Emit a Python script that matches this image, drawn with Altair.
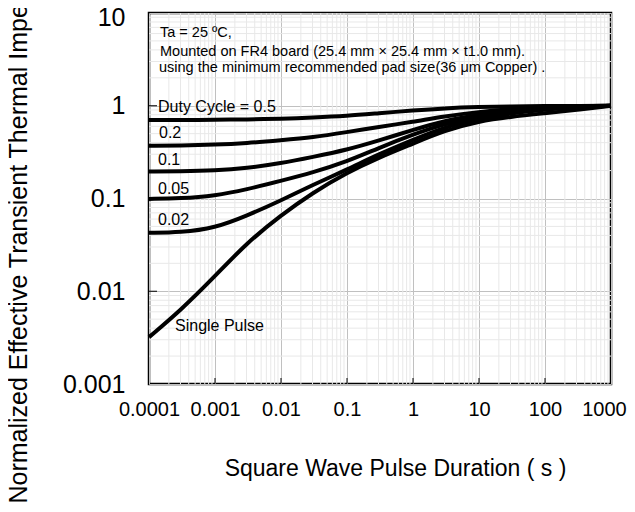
import altair as alt
import pandas as pd

# ---- data ----
pulse_s = [1e-4, 3e-4, 1e-3, 3e-3, 1e-2, 3e-2, 0.1, 0.3, 1, 3, 10, 30, 100, 300, 1000]
d_050 = [0.70, 0.70, 0.705, 0.712, 0.725, 0.745, 0.775, 0.83, 0.89, 0.94, 0.97, 0.985, 0.992, 0.996, 1.0]
d_020 = [0.37, 0.372, 0.38, 0.395, 0.425, 0.455, 0.52, 0.59, 0.67, 0.77, 0.86, 0.92, 0.96, 0.985, 1.0]
d_010 = [0.195, 0.196, 0.20, 0.212, 0.24, 0.28, 0.335, 0.42, 0.55, 0.69, 0.80, 0.88, 0.94, 0.98, 1.0]
d_005 = [0.099, 0.10, 0.107, 0.125, 0.155, 0.19, 0.25, 0.35, 0.49, 0.64, 0.76, 0.86, 0.93, 0.975, 1.0]
d_002 = [0.0426, 0.043, 0.048, 0.065, 0.095, 0.14, 0.205, 0.30, 0.43, 0.59, 0.72, 0.83, 0.91, 0.965, 1.0]
single = [0.0032, 0.0062, 0.0145, 0.033, 0.066, 0.115, 0.19, 0.275, 0.39, 0.54, 0.68, 0.76, 0.83, 0.90, 1.0]

series = {"0.5": d_050, "0.2": d_020, "0.1": d_010, "0.05": d_005, "0.02": d_002, "Single Pulse": single}

x_decades = [1e-4, 1e-3, 1e-2, 0.1, 1, 10, 100, 1000]
y_decades = [0.001, 0.01, 0.1, 1, 10]
x_minor = [m * 10.0 ** e for e in range(-4, 3) for m in range(2, 10)]
y_minor = [m * 10.0 ** e for e in range(-3, 1) for m in range(2, 10)]

x_title = "Square Wave Pulse Duration ( s )"
y_title = "Normalized Effective Transient Thermal Impedance"
note_lines = [
    "Ta = 25 ºC,",
    " Mounted on FR4 board (25.4 mm × 25.4 mm × t1.0 mm).",
    "using the minimum recommended pad size(36 μm Copper) .",
]
curve_labels = ["Duty Cycle = 0.5", "0.2", "0.1", "0.05", "0.02", "Single Pulse"]

# ---- layout ----
W, H = 462, 371
FONT = "Liberation Sans"

rows = []
for name, vals in series.items():
    for x, y in zip(pulse_s, vals):
        rows.append({"series": name, "t": x, "z": y})
df = pd.DataFrame(rows)

xs = alt.Scale(type="log", domain=[1e-4, 1000], nice=False)
ys = alt.Scale(type="log", domain=[0.001, 10], nice=False)

x_axis = alt.Axis(
    values=x_decades, format="~g", title=x_title,
    grid=True, gridColor="#c0c0c0", ticks=False, domain=False,
    labelFontSize=20, labelFont=FONT, labelColor="black", labelPadding=15,
    labelOffset={"condition": {"test": "datum.value >= 1000", "value": -7}, "value": 0},
    labelOverlap=False, labelFlush=False,
    titleFontSize=23, titleFont=FONT, titleFontWeight="normal", titleColor="black",
    titleX=246, titleY=91, titleAlign="center", titleBaseline="alphabetic",
)
y_axis = alt.Axis(
    values=y_decades, format="~g", title=y_title,
    grid=True, gridColor="#c0c0c0", ticks=False, domain=False,
    labelFontSize=25, labelFont=FONT, labelColor="black", labelPadding=24,
    labelOffset={"condition": {"test": "datum.value >= 10", "value": 4}, "value": 0},
    labelOverlap=False, labelFlush=False,
    titleFontSize=25, titleFont=FONT, titleFontWeight="normal", titleColor="black",
    titleAngle=270, titleX=-123, titleY=490, titleAlign="left", titleBaseline="alphabetic",
)

X = alt.X("t:Q", scale=xs, axis=x_axis, title=x_title)
Y = alt.Y("z:Q", scale=ys, axis=y_axis, title=y_title)

minor_x = alt.Chart(pd.DataFrame({"t": x_minor})).mark_rule(
    color="#e8e8e8", strokeWidth=1
).encode(x=X, y=alt.value(0), y2=alt.value(H))

minor_y = alt.Chart(pd.DataFrame({"z": y_minor})).mark_rule(
    color="#e8e8e8", strokeWidth=1
).encode(y=Y, x=alt.value(0), x2=alt.value(W))

lines = alt.Chart(df).mark_line(
    color="black", strokeWidth=4, interpolate="basis", strokeCap="butt"
).encode(x=X, y=Y, detail="series:N")

tick_x = alt.Chart(pd.DataFrame({"t": x_decades[1:-1]})).mark_rule(color="black", strokeWidth=1).encode(
    x=X, y=alt.value(H), y2=alt.value(H - 6)
)
tick_y = alt.Chart(pd.DataFrame({"z": y_decades[1:-1]})).mark_rule(color="black", strokeWidth=1).encode(
    y=Y, x=alt.value(0), x2=alt.value(8)
)

layers = [minor_x, minor_y, lines, tick_x, tick_y]

note_pos = [(11, 20), (11, 39), (10, 55)]
for txt, (px, py) in zip(note_lines, note_pos):
    layers.append(
        alt.Chart(pd.DataFrame({"s": [txt]})).mark_text(
            align="left", baseline="middle", font=FONT, fontSize=14.5, color="black"
        ).encode(text="s:N", x=alt.value(px), y=alt.value(py))
    )

label_pos = [(9, 94), (10, 120), (9, 147), (9, 176), (9, 207), (26, 313)]
for txt, (px, py) in zip(curve_labels, label_pos):
    layers.append(
        alt.Chart(pd.DataFrame({"s": [txt]})).mark_text(
            align="left", baseline="middle", font=FONT, fontSize=16, color="black"
        ).encode(text="s:N", x=alt.value(px), y=alt.value(py))
    )

chart = alt.layer(*layers).properties(
    width=W, height=H,
    background="white",
    autosize=alt.AutoSizeParams(type="none"),
    padding={"left": 141, "top": 5, "right": 16, "bottom": 120},
).configure_view(stroke="black", strokeWidth=2.5)

chart.save("out.html", embed_options={"renderer": "svg", "actions": False})
